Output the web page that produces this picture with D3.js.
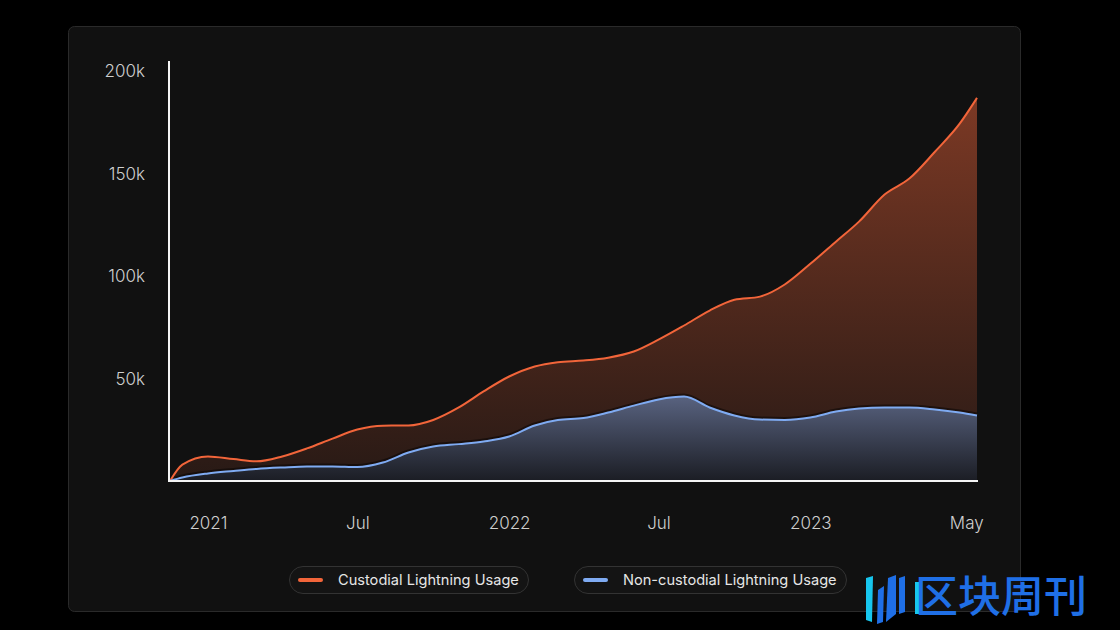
<!DOCTYPE html>
<html>
<head>
<meta charset="utf-8">
<script src="https://cdn.jsdelivr.net/npm/d3@7"></script>
<style>
  html, body { margin: 0; padding: 0; background: #000; }
  svg { display: block; }
  text { font-family: Inter, "Noto Sans", sans-serif; }
</style>
</head>
<body>
<svg id="chart" width="1120" height="630"></svg>
<script>
// ---- data ----
const dates = ["2020-11-16","2020-12-01","2021-01-01","2021-02-01","2021-03-01","2021-04-01","2021-05-01","2021-06-01","2021-07-01","2021-08-01","2021-09-01","2021-10-01","2021-11-01","2021-12-01","2022-01-01","2022-02-01","2022-03-01","2022-04-01","2022-05-01","2022-06-01","2022-07-01","2022-08-01","2022-09-01","2022-10-01","2022-11-01","2022-12-01","2023-01-01","2023-02-01","2023-03-01","2023-04-01","2023-05-01","2023-06-01","2023-07-01","2023-07-22"];
const custodial = [0,8000,12000,10700,9600,12000,15900,20700,25100,27000,27100,29800,35900,43700,51000,55900,58000,58800,60200,63200,69000,75900,83200,88500,90000,95900,106000,116800,126600,139800,147600,160700,174400,187000];
const nonCustodial = [0,1700,3700,4900,5900,6600,7100,7100,6800,9000,13900,16800,18000,19300,21700,27100,29800,30700,33400,36800,39800,41200,35900,32000,30000,29800,31000,33900,35400,35900,35900,34900,33400,32000];
const yTicks = [50000,100000,150000,200000];
const yTickLabels = ["50k","100k","150k","200k"];
const xTickDates = ["2021-01-01","2021-07-01","2022-01-01","2022-07-01","2023-01-01","2023-07-09"];
const xTickLabels = ["2021","Jul","2022","Jul","2023","May"];
const seriesNames = ["Custodial Lightning Usage","Non-custodial Lightning Usage"];
const seriesColors = ["#f2653a","#7fabf2"];

const parse = d3.timeParse("%Y-%m-%d");
const rows = dates.map((d,i)=>({date: parse(d), c: custodial[i], n: nonCustodial[i]}));

const svg = d3.select("#chart");
// card
svg.append("rect").attr("x",68.5).attr("y",26.5).attr("width",952).attr("height",585)
  .attr("rx",6).attr("fill","#111111").attr("stroke","#2a2a2a").attr("stroke-width",1);

const x = d3.scaleTime().domain([parse("2020-11-16"), parse("2023-07-22")]).range([170, 977]);
const y = d3.scaleLinear().domain([0, 205000]).range([481, 61]);

const defs = svg.append("defs");
const gO = defs.append("linearGradient").attr("id","gradO").attr("gradientUnits","userSpaceOnUse")
  .attr("x1",0).attr("y1",71).attr("x2",0).attr("y2",481);
gO.append("stop").attr("offset","0%").attr("stop-color","#f2653a").attr("stop-opacity",0.5);
gO.append("stop").attr("offset","100%").attr("stop-color","#f2653a").attr("stop-opacity",0.1);

const gB = defs.append("linearGradient").attr("id","gradB").attr("gradientUnits","userSpaceOnUse")
  .attr("x1",0).attr("y1",397).attr("x2",0).attr("y2",481);
gB.append("stop").attr("offset","0%").attr("stop-color","#58627f");
gB.append("stop").attr("offset","100%").attr("stop-color","#1b1d24");

const curve = d3.curveMonotoneX;
const areaC = d3.area().x(d=>x(d.date)).y0(y(0)).y1(d=>y(d.c)).curve(curve);
const lineC = d3.line().x(d=>x(d.date)).y(d=>y(d.c)).curve(curve);
const areaN = d3.area().x(d=>x(d.date)).y0(y(0)).y1(d=>y(d.n)).curve(curve);
const lineN = d3.line().x(d=>x(d.date)).y(d=>y(d.n)).curve(curve);

svg.append("path").datum(rows).attr("d",areaC).attr("fill","url(#gradO)");
svg.append("path").datum(rows).attr("d",areaN).attr("fill","url(#gradB)");
svg.append("path").datum(rows).attr("d",lineN).attr("fill","none").attr("stroke","rgba(0,0,0,0.45)")
  .attr("stroke-width",3).attr("transform","translate(0,-1.5)");
svg.append("path").datum(rows).attr("d",lineC).attr("fill","none").attr("stroke",seriesColors[0]).attr("stroke-width",2);
svg.append("path").datum(rows).attr("d",lineN).attr("fill","none").attr("stroke",seriesColors[1]).attr("stroke-width",2);

// axes
const yAxis = d3.axisLeft(y).tickValues(yTicks).tickSize(0).tickPadding(24)
  .tickFormat((d,i)=>yTickLabels[i]);
const gy = svg.append("g").attr("transform","translate(169,0)").call(yAxis);
gy.select(".domain").remove();
gy.selectAll("text").attr("fill","#cfcfcf").style("font-size","17px").style("font-family","Inter, sans-serif").style("font-weight","300");

const xAxis = d3.axisBottom(x).tickValues(xTickDates.map(parse)).tickSize(0).tickPadding(36)
  .tickFormat((d,i)=>xTickLabels[i]);
const gx = svg.append("g").attr("transform","translate(0,481)").call(xAxis);
gx.select(".domain").remove();
gx.selectAll("text").attr("fill","#cfcfcf").style("font-size","17px").style("font-family","Inter, sans-serif").style("font-weight","300");

svg.append("line").attr("x1",169).attr("x2",169).attr("y1",61).attr("y2",482)
  .attr("stroke","#f5f5f5").attr("stroke-width",2);
svg.append("line").attr("x1",168).attr("x2",978).attr("y1",481).attr("y2",481)
  .attr("stroke","#f5f5f5").attr("stroke-width",2);

// legend
const legendX = [289, 574];
const legendW = [239, 272];
seriesNames.forEach((name,i)=>{
  const g = svg.append("g").attr("transform",`translate(${legendX[i]},566)`);
  g.append("rect").attr("x",0.5).attr("y",0.5).attr("width",legendW[i]).attr("height",27).attr("rx",13.5)
    .attr("fill","#141414").attr("stroke","#333").attr("stroke-width",1);
  g.append("line").attr("x1",11).attr("x2",32).attr("y1",14).attr("y2",14)
    .attr("stroke",seriesColors[i]).attr("stroke-width",4).attr("stroke-linecap","round");
  g.append("text").attr("x",49).attr("y",14).attr("dy","0.35em").text(name)
    .attr("fill","#e6e6e6").style("font-size","14.6px");
});

// watermark
const wm = svg.append("g");
wm.append("path").attr("d","M866,578 L873,576 L872,622 L866,620 Z").attr("fill","#17c6ee");
wm.append("path").attr("d","M878,590 L884,586 L883,622 L877,624 Z").attr("fill","#1f6fe6");
wm.append("path").attr("d","M888,578 L896,575 L896,614 L886,622 Z").attr("fill","#1f6fe6");
wm.append("path").attr("d","M899,578 L905,576 L905,612 L899,614 Z").attr("fill","#1f6fe6");
wm.append("rect").attr("x",915).attr("y",582).attr("width",5).attr("height",32).attr("fill","#17c6ee");
wm.append("text").attr("x",915).attr("y",597).attr("dy","0.36em").text("区块周刊")
  .attr("fill","#1f6fe6").style("font-size","43px").style("font-family","'Noto Sans CJK SC', sans-serif").style("font-weight","500");
</script>
</body>
</html>
